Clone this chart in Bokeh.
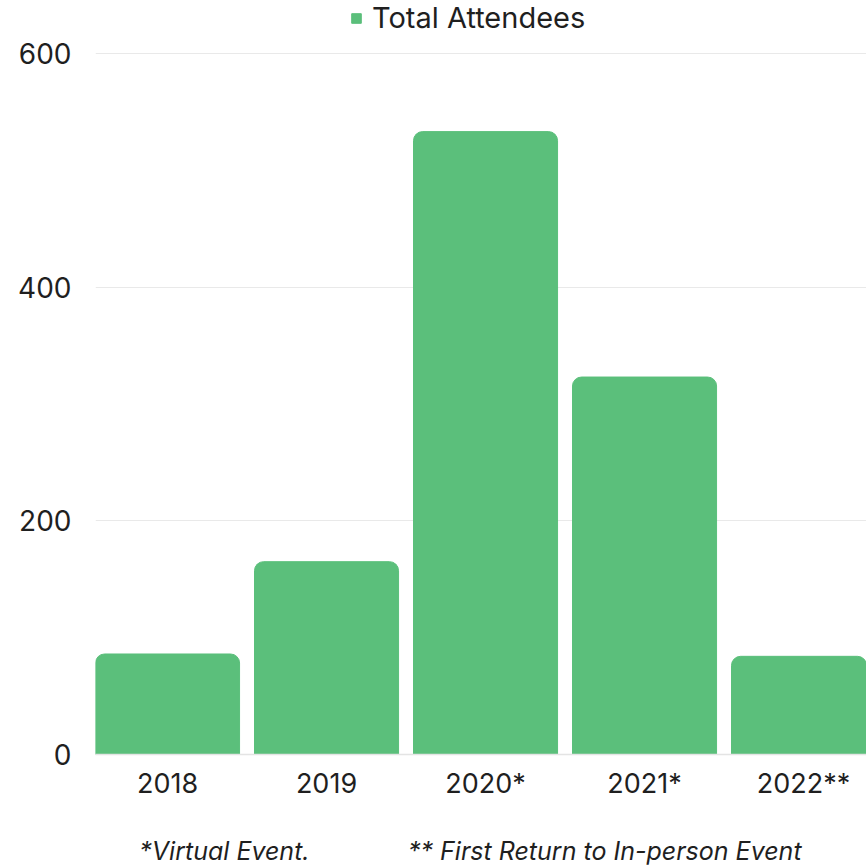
from bokeh.plotting import figure
from bokeh.models import Legend, LegendItem, FixedTicker, Range1d, ColumnDataSource
from bokeh.embed import file_html
from bokeh.resources import INLINE

# ---- data ----
years = ["2018", "2019", "2020*", "2021*", "2022**"]
attendees = [86, 165, 533, 323, 84]
y_ticks = [0, 200, 400, 600]
series_name = "Total Attendees"
notes = ["*Virtual Event.", "** First Return to In-person Event"]

FONT = "Inter"
GREEN = "#5bbf7b"
TEXT = "#1f1f1f"
NB = "\u00a0"

xs = list(range(len(years)))
src = ColumnDataSource(dict(x=xs, top=attendees, year=years))

p = figure(width=866, height=868, output_backend="svg", toolbar_location=None,
           x_range=Range1d(-0.453, 4.396), y_range=Range1d(0, 645.2),
           min_border_left=95, min_border_right=0, min_border_top=0,
           min_border_bottom=112)
p.outline_line_color = None
p.background_fill_color = "white"

r = p.vbar(x="x", top="top", width=0.906, source=src, color=GREEN,
           border_radius=(9, 9, 0, 0))

# axes
p.xaxis.ticker = FixedTicker(ticks=xs)
p.xaxis.major_label_overrides = {i: y for i, y in enumerate(years)}
p.xaxis.axis_line_color = "#e4e4e4"
p.xaxis.axis_line_width = 1.5
p.xaxis.major_tick_line_color = None
p.xaxis.minor_tick_line_color = None
p.xaxis.major_label_standoff = 6
p.xaxis.major_label_text_font = FONT
p.xaxis.major_label_text_font_size = "27px"
p.xaxis.major_label_text_color = TEXT
p.xaxis.axis_label = notes[0] + NB * 14 + notes[1] + NB * 3
p.xaxis.axis_label_text_font = FONT
p.xaxis.axis_label_text_font_size = "25px"
p.xaxis.axis_label_text_font_style = "italic"
p.xaxis.axis_label_text_color = TEXT
p.xaxis.axis_label_standoff = 33

p.yaxis.ticker = FixedTicker(ticks=y_ticks)
p.yaxis.axis_line_color = None
p.yaxis.major_tick_line_color = None
p.yaxis.minor_tick_line_color = None
p.yaxis.major_label_standoff = 18
p.yaxis.major_label_text_font = FONT
p.yaxis.major_label_text_font_size = "28px"
p.yaxis.major_label_text_color = TEXT

p.xgrid.grid_line_color = None
p.ygrid.ticker = FixedTicker(ticks=y_ticks[1:])
p.ygrid.grid_line_color = "#e9e9e9"
p.ygrid.grid_line_width = 1

# legend
legend = Legend(items=[LegendItem(label=series_name, renderers=[r])],
                orientation="horizontal", location=(255, 719),
                glyph_width=12, glyph_height=12, label_standoff=10,
                label_text_font=FONT, label_text_font_size="29px",
                label_text_color=TEXT, border_line_color=None,
                background_fill_alpha=0, padding=0, margin=0, spacing=0)
p.add_layout(legend, "center")

open("out.html", "w").write(file_html(p, INLINE))
